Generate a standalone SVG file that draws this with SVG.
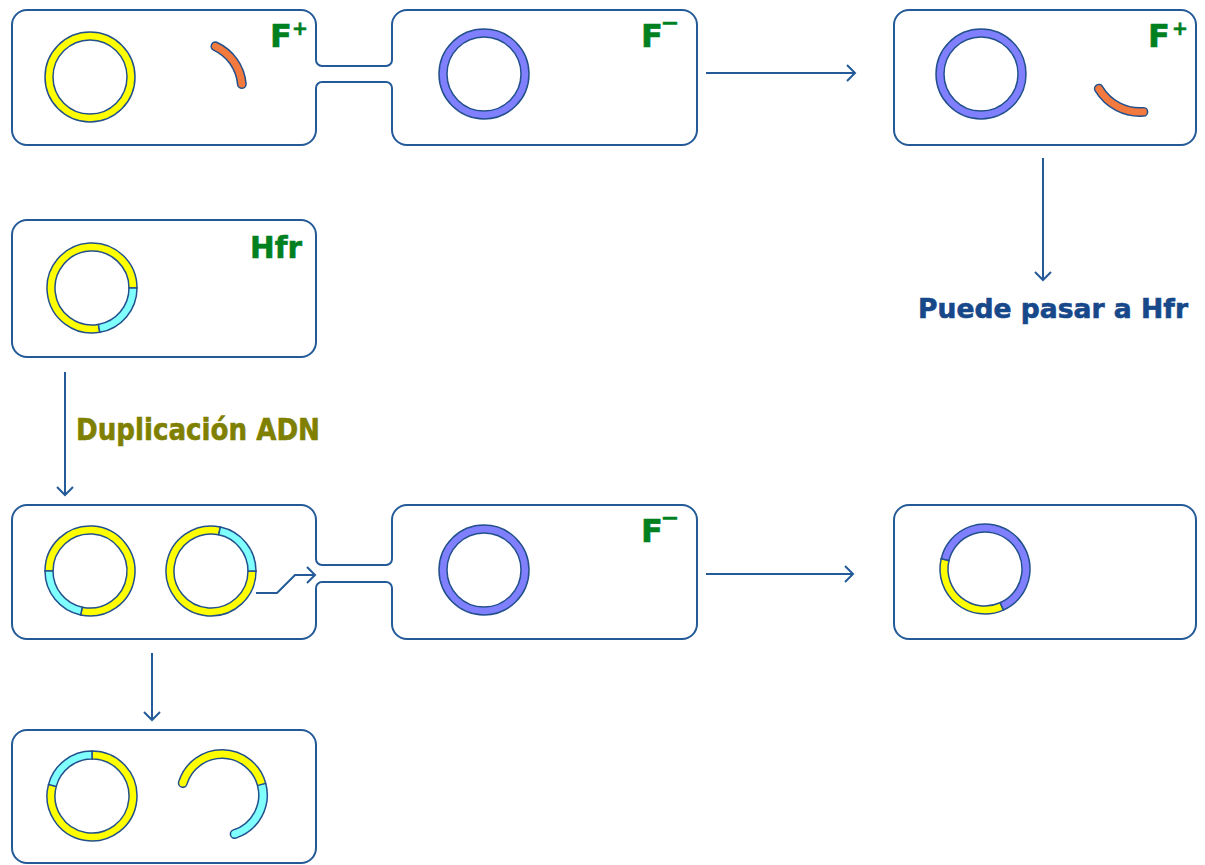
<svg xmlns="http://www.w3.org/2000/svg" width="1205" height="865" viewBox="0 0 1205 865">
  <style>
    .cell { fill: none; stroke: #235a97; stroke-width: 2; }
    .link { fill: none; stroke: #235a97; stroke-width: 2; }
    .ring { stroke: #22508c; stroke-width: 1.5; fill-rule: evenodd; }
    .yel { fill: #ffff00; }
    .cya { fill: #80ffff; }
    .blu { fill: #8080ff; }
    .arc-under { fill: none; stroke: #22508c; stroke-width: 10; stroke-linecap: round; }
    .arc-orange { fill: none; stroke: #f27a3f; stroke-width: 7; stroke-linecap: round; }
    .lbl { font-family: "DejaVu Sans", "Liberation Sans", sans-serif; font-weight: bold; stroke-width: 0.6; stroke-linejoin: round; }
    .green { fill: #00801f; stroke: #00801f; }
    .olive { fill: #808000; stroke: #808000; }
    .navy { fill: #16488a; stroke: #16488a; }
  </style>
  <defs>
    <marker id="chev" markerUnits="userSpaceOnUse" markerWidth="20" markerHeight="20" refX="10" refY="10" orient="auto">
      <path d="M2,2 L10,10 L2,18" fill="none" stroke="#235a97" stroke-width="2"/>
    </marker>
  </defs>

  <rect width="1205" height="865" fill="#ffffff"/>

  <!-- connectors -->
  <g id="connectors">
    <!-- conjugation bridges -->
    <path class="link" d="M322,66 H386 M322,82 H386"/>
    <path class="link" d="M322,565 H386 M322,582 H386"/>
    <!-- process arrows -->
    <path class="link" d="M706,73 H855" marker-end="url(#chev)"/>
    <path class="link" d="M1043,158 V280" marker-end="url(#chev)"/>
    <path class="link" d="M65,372 V495" marker-end="url(#chev)"/>
    <path class="link" d="M706,574 H853" marker-end="url(#chev)"/>
    <path class="link" d="M152,653 V720" marker-end="url(#chev)"/>
    <path class="link" d="M256,593 H277 L295,575 H315" marker-end="url(#chev)"/>
  </g>

  <!-- donor F+ cell -->
  <g id="donor-fplus">
    <path class="cell" d="M322,66 A6,6 0 0 1 316,60 V25 A15,15 0 0 0 301,10 H27 A15,15 0 0 0 12,25 V130 A15,15 0 0 0 27,145 H301 A15,15 0 0 0 316,130 V88 A6,6 0 0 1 322,82"/>
    <path class="ring yel" d="M135,77 A45,45 0 1 1 45,77 A45,45 0 1 1 135,77 Z M127,77 A37,37 0 1 0 53,77 A37,37 0 1 0 127,77 Z"/>
    <path class="arc-under" d="M215.44,46.31 A46,46 0 0 1 241.82,83.99"/>
    <path class="arc-orange" d="M215.44,46.31 A46,46 0 0 1 241.82,83.99"/>
    <text class="lbl green" x="270" y="47" font-size="32">F<tspan x="292" y="35" font-size="19">+</tspan></text>
  </g>

  <!-- recipient F- cell (top) -->
  <g id="recipient-fminus-top">
    <path class="cell" d="M386,66 A6,6 0 0 0 392,60 V25 A15,15 0 0 1 407,10 H682 A15,15 0 0 1 697,25 V130 A15,15 0 0 1 682,145 H407 A15,15 0 0 1 392,130 V88 A6,6 0 0 0 386,82"/>
    <path class="ring blu" d="M529,74 A45,45 0 1 1 439,74 A45,45 0 1 1 529,74 Z M521,74 A37,37 0 1 0 447,74 A37,37 0 1 0 521,74 Z"/>
    <text class="lbl green" x="641" y="47" font-size="32">F<tspan x="660.8" y="29.5" font-size="22">−</tspan></text>
  </g>

  <!-- converted F+ cell -->
  <g id="converted-fplus">
    <rect class="cell" x="894" y="10" width="302" height="135" rx="15" ry="15"/>
    <path class="ring blu" d="M1026,74 A45,45 0 1 1 936,74 A45,45 0 1 1 1026,74 Z M1018,74 A37,37 0 1 0 944,74 A37,37 0 1 0 1018,74 Z"/>
    <path class="arc-under" d="M1098.85,88.72 A48,48 0 0 0 1143.35,111.88"/>
    <path class="arc-orange" d="M1098.85,88.72 A48,48 0 0 0 1143.35,111.88"/>
    <text class="lbl green" x="1148" y="47" font-size="32">F<tspan x="1172" y="35" font-size="19">+</tspan></text>
  </g>

  <g id="note-hfr">
    <text class="lbl navy" x="918" y="318" font-size="27" textLength="270" lengthAdjust="spacingAndGlyphs">Puede pasar a Hfr</text>
  </g>

  <!-- Hfr cell -->
  <g id="hfr-cell">
    <rect class="cell" x="12" y="220" width="304" height="137" rx="15" ry="15"/>
    <path class="ring yel" d="M99.81,332.32 A45,45 0 1 1 137,288 L129,288 A37,37 0 1 0 98.42,324.44 Z"/>
    <path class="ring cya" d="M137,288 A45,45 0 0 1 99.81,332.32 L98.42,324.44 A37,37 0 0 0 129,288 Z"/>
    <text class="lbl green" x="250" y="258" font-size="31" textLength="52" lengthAdjust="spacingAndGlyphs">Hfr</text>
  </g>

  <g id="label-duplicacion">
    <text class="lbl olive" x="76" y="440" font-size="30" textLength="244" lengthAdjust="spacingAndGlyphs">Duplicación ADN</text>
  </g>

  <!-- duplicated Hfr cell -->
  <g id="hfr-duplicated">
    <path class="cell" d="M322,565 A6,6 0 0 1 316,559 V520 A15,15 0 0 0 301,505 H27 A15,15 0 0 0 12,520 V624 A15,15 0 0 0 27,639 H301 A15,15 0 0 0 316,624 V588 A6,6 0 0 1 322,582"/>
    <path class="ring yel" d="M45,571 A45,45 0 1 1 80.64,615.02 L82.31,607.19 A37,37 0 1 0 53,571 Z"/>
    <path class="ring cya" d="M80.64,615.02 A45,45 0 0 1 45,571 L53,571 A37,37 0 0 0 82.31,607.19 Z"/>
    <path class="ring yel" d="M256,571 A45,45 0 1 1 220.36,526.98 L218.69,534.81 A37,37 0 1 0 248,571 Z"/>
    <path class="ring cya" d="M220.36,526.98 A45,45 0 0 1 256,571 L248,571 A37,37 0 0 0 218.69,534.81 Z"/>
  </g>

  <!-- recipient F- cell (bottom) -->
  <g id="recipient-fminus-bottom">
    <path class="cell" d="M386,565 A6,6 0 0 0 392,559 V520 A15,15 0 0 1 407,505 H682 A15,15 0 0 1 697,520 V624 A15,15 0 0 1 682,639 H407 A15,15 0 0 1 392,624 V588 A6,6 0 0 0 386,582"/>
    <path class="ring blu" d="M529,570 A45,45 0 1 1 439,570 A45,45 0 1 1 529,570 Z M521,570 A37,37 0 1 0 447,570 A37,37 0 1 0 521,570 Z"/>
    <text class="lbl green" x="641" y="542" font-size="32">F<tspan x="660.8" y="524.5" font-size="22">−</tspan></text>
  </g>

  <!-- recombinant recipient -->
  <g id="recombinant">
    <rect class="cell" x="894" y="505" width="302" height="134" rx="15" ry="15"/>
    <path class="ring blu" d="M941.15,558.88 A45,45 0 1 1 1003.30,610.11 L1000.05,602.80 A37,37 0 1 0 948.95,560.68 Z"/>
    <path class="ring yel" d="M1003.30,610.11 A45,45 0 0 1 941.15,558.88 L948.95,560.68 A37,37 0 0 0 1000.05,602.80 Z"/>
  </g>

  <!-- Hfr cell after transfer -->
  <g id="hfr-after">
    <rect class="cell" x="12" y="730" width="304" height="133" rx="15" ry="15"/>
    <path class="ring yel" d="M92,751 A45,45 0 1 1 48.53,784.35 L56.26,786.42 A37,37 0 1 0 92,759 Z"/>
    <path class="ring cya" d="M48.53,784.35 A45,45 0 0 1 92,751 L92,759 A37,37 0 0 0 56.26,786.42 Z"/>
    <!-- transferred open strand -->
    <path class="arc-under" d="M182.79,783.01 A41,41 0 0 1 261.60,784.39 A41,41 0 0 1 234.67,833.99"/>
    <path d="M182.79,783.01 A41,41 0 0 1 261.60,784.39" fill="none" stroke="#ffff00" stroke-width="7"/>
    <path d="M261.60,784.39 A41,41 0 0 1 234.67,833.99" fill="none" stroke="#80ffff" stroke-width="7"/>
    <circle cx="182.79" cy="783.01" r="3.5" fill="#ffff00"/>
    <circle cx="234.67" cy="833.99" r="3.5" fill="#80ffff"/>
    <path d="M257.2,785.6 L266.0,783.2" stroke="#22508c" stroke-width="1.5"/>
  </g>
</svg>
